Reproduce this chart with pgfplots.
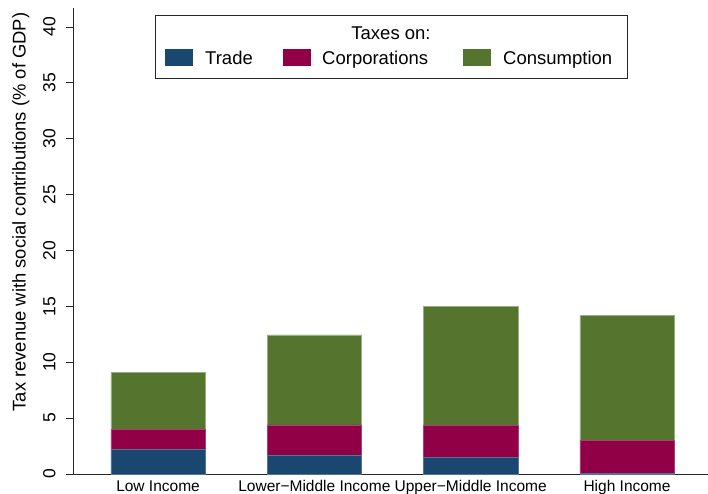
\documentclass[border=0pt]{standalone}
\usepackage{pgfplots}
\pgfplotsset{compat=1.18}
\usepackage{fontspec}
\setmainfont{Liberation Sans}
\definecolor{navy}{RGB}{26,71,111}
\definecolor{cranb}{RGB}{145,0,70}
\definecolor{forest}{RGB}{85,117,47}
\begin{document}
\begin{tikzpicture}[x=1bp,y=1bp]
\begin{axis}[
  scale only axis, width=635bp, height=466bp,
  xmin=-0.544, xmax=3.518, ymin=0, ymax=41.7,
  ybar stacked, bar width=94.5bp,
  axis x line=bottom, axis y line=left,
  axis line style={-, line width=0.9bp, black!85},
  xtick={0,1,2,3},
  xticklabels={Low Income, Lower−Middle Income, Upper−Middle Income, High Income},
  x tick style={draw=none},
  xticklabel style={font=\fontsize{15.5bp}{18bp}\selectfont, yshift=-10.3bp, anchor=base, inner sep=0pt},
  ytick={0,5,...,40},
  tick align=outside, major tick length=7bp,
  y tick style={line width=0.9bp, black!85},
  yticklabel style={font=\fontsize{17.5bp}{20bp}\selectfont, xshift=-10.5bp, rotate=90, anchor=base, inner sep=0pt},
  /pgf/number format/assume math mode=true,
  clip=false,
]
\addplot[fill=navy, draw=navy!75!white, line width=0.5bp] coordinates {(0,2.18) (1,1.70) (2,1.49) (3,0.05)};
\addplot[fill=cranb, draw=cranb!75!white, line width=0.5bp] coordinates {(0,1.79) (1,2.69) (2,2.87) (3,2.96)};
\addplot[fill=forest, draw=forest!60!white, line width=0.5bp] coordinates {(0,5.13) (1,8.05) (2,10.62) (3,11.19)};
\end{axis}
% y axis title
\node[rotate=90, anchor=base, inner sep=0pt, font=\fontsize{18.4bp}{22bp}\selectfont] at (-47.5,262) {Tax revenue with social contributions (\% of GDP)};
% legend
\draw[black!85, line width=0.8bp, fill=white] (82,396) rectangle (554,459);
\node[anchor=base, inner sep=0pt, font=\fontsize{18.5bp}{22bp}\selectfont] at (318,434.7) {Taxes on:};
\fill[navy] (92,408) rectangle (120,425);
\fill[cranb] (210,408) rectangle (238,425);
\fill[forest] (390,408) rectangle (418,425);
\node[anchor=base west, inner sep=0pt, font=\fontsize{18.5bp}{22bp}\selectfont] at (132,409) {Trade};
\node[anchor=base west, inner sep=0pt, font=\fontsize{18.5bp}{22bp}\selectfont] at (249,409) {Corporations};
\node[anchor=base west, inner sep=0pt, font=\fontsize{18.5bp}{22bp}\selectfont] at (430,409) {Consumption};
\pgfresetboundingbox
\path[use as bounding box] (-73,-20) rectangle (635,474);
\end{tikzpicture}
\end{document}
